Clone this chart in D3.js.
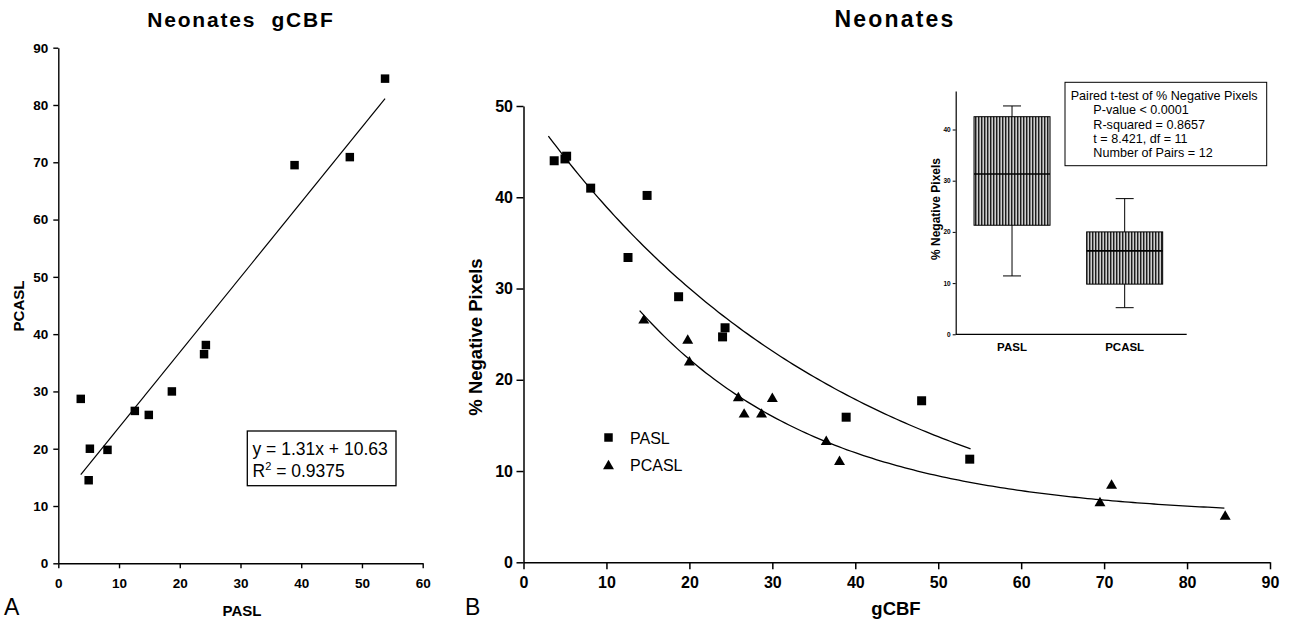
<!DOCTYPE html>
<html>
<head>
<meta charset="utf-8">
<script src="https://cdn.jsdelivr.net/npm/d3@7/dist/d3.min.js"></script>
<style>
  body { margin: 0; background: #fff; }
  svg { display: block; font-family: "Liberation Sans", Arial, sans-serif; }
  .axis path, .axis line { stroke: #000; }
  .axis text { fill: #000; font-weight: bold; }
</style>
</head>
<body>
<svg id="chart" width="1289" height="621"></svg>
<script>
// gCBF per subject (12 neonates), same order in every array
var gcbfPasl  = [3.7, 5.0, 5.2, 8.1, 12.6, 14.9, 18.7, 24.0, 24.3, 38.9, 48.0, 53.8];
var gcbfPcasl = [28.7, 14.5, 20.0, 19.8, 26.6, 25.9, 30.0, 36.5, 38.1, 69.5, 70.9, 84.6];
// % negative pixels per subject
var negPasl  = [44.0, 44.2, 44.5, 41.0, 33.4, 40.2, 29.1, 24.7, 25.7, 15.9, 17.7, 11.3];
var negPcasl = [16.2, 26.5, 21.9, 24.3, 16.2, 18.0, 17.9, 13.2, 11.0, 6.5, 8.4, 5.0];

// panel A regression
var regSlope = 1.31, regIntercept = 10.63;
var regLabel = ["y = 1.31x + 10.63", "R", "2", " = 0.9375"];

// panel B exponential fits: y = c + a*exp(-b*x), drawn over [from, to]
var fitPasl  = {a: 50.5, b: 0.026, c: 0, from: 3.0, to: 53.9};
var fitPcasl = {a: 42.4, b: 0.045, c: 5, from: 14.0, to: 84.5};

// inset box plot
var boxCats = ["PASL", "PCASL"];
var boxLow  = [11.4, 5.2];
var boxQ1   = [21.3, 9.8];
var boxMed  = [31.3, 16.3];
var boxQ3   = [42.5, 20.0];
var boxHigh = [44.6, 26.5];
var statLines = ["Paired t-test of % Negative Pixels", "P-value < 0.0001", "R-squared = 0.8657", "t = 8.421, df = 11", "Number of Pairs = 12"];

var ticksA_x = d3.range(0, 61, 10), ticksA_y = d3.range(0, 91, 10);
var ticksB_x = d3.range(0, 91, 10), ticksB_y = d3.range(0, 51, 10);
var ticksIn_y = d3.range(0, 41, 10);

var svg = d3.select("#chart");
svg.append("rect").attr("width", 1289).attr("height", 621).attr("fill", "#fff");

// hatch for the boxes
var pat = svg.append("defs").append("pattern")
  .attr("id", "hatch").attr("patternUnits", "userSpaceOnUse")
  .attr("width", 3).attr("height", 10);
pat.append("rect").attr("width", 3).attr("height", 10).attr("fill", "#828282");
pat.append("rect").attr("x", 0).attr("width", 1).attr("height", 10).attr("fill", "#1e1e1e");
pat.append("rect").attr("x", 2).attr("width", 1).attr("height", 10).attr("fill", "#cfcfcf");

// ---------- panel A ----------
var xA = d3.scaleLinear().domain([0, 60]).range([58.3, 422.7]);
var yA = d3.scaleLinear().domain([0, 90]).range([563.3, 47.7]);

var gAx = svg.append("g").attr("class", "axis").attr("transform", "translate(0," + yA(0) + ")")
  .call(d3.axisBottom(xA).tickValues(ticksA_x).tickSize(5).tickPadding(10).tickSizeOuter(0));
var gAy = svg.append("g").attr("class", "axis").attr("transform", "translate(" + xA(0) + ",0)")
  .call(d3.axisLeft(yA).tickValues(ticksA_y).tickSize(5).tickPadding(5).tickSizeOuter(0));
[gAx, gAy].forEach(function(g) {
  g.selectAll("text").style("font-size", "13.5px");
  g.selectAll("path,line").attr("stroke-width", 1.4);
});

svg.append("text").attr("x", 241).attr("y", 27).attr("text-anchor", "middle")
  .style("font-size", "21px").style("font-weight", "bold").style("letter-spacing", "1.8px")
  .attr("xml:space", "preserve").text("Neonates  gCBF");
svg.append("text").attr("x", 242).attr("y", 616).attr("text-anchor", "middle")
  .style("font-size", "15px").style("font-weight", "bold").text("PASL");
svg.append("text").attr("transform", "translate(23.5,306) rotate(-90)").attr("text-anchor", "middle")
  .style("font-size", "15px").style("font-weight", "bold").text("PCASL");
svg.append("text").attr("x", 4).attr("y", 615).style("font-size", "23px").text("A");

var xMin = d3.min(gcbfPasl), xMax = d3.max(gcbfPasl);
svg.append("line")
  .attr("x1", xA(xMin)).attr("y1", yA(regSlope * xMin + regIntercept))
  .attr("x2", xA(xMax)).attr("y2", yA(regSlope * xMax + regIntercept))
  .attr("stroke", "#000").attr("stroke-width", 1.2);

svg.append("g").selectAll("path").data(gcbfPasl).enter().append("path")
  .attr("transform", function(d, i) { return "translate(" + xA(d) + "," + yA(gcbfPcasl[i]) + ")"; })
  .attr("d", d3.symbol().type(d3.symbolSquare).size(72));

var lg = svg.append("g");
lg.append("rect").attr("x", 247.3).attr("y", 431).attr("width", 148.7).attr("height", 54.7)
  .attr("fill", "#fff").attr("stroke", "#000").attr("stroke-width", 1.3);
lg.append("text").attr("x", 252.5).attr("y", 455).style("font-size", "17.5px").text(regLabel[0]);
var r2 = lg.append("text").attr("x", 252.5).attr("y", 477).style("font-size", "17.5px");
r2.append("tspan").text(regLabel[1]);
r2.append("tspan").attr("dy", -7).style("font-size", "11px").text(regLabel[2]);
r2.append("tspan").attr("dy", 7).attr("xml:space", "preserve").text(regLabel[3]);

// ---------- panel B ----------
var xB = d3.scaleLinear().domain([0, 90]).range([523.5, 1270]);
var yB = d3.scaleLinear().domain([0, 50]).range([562.3, 106]);

var gBx = svg.append("g").attr("class", "axis").attr("transform", "translate(0," + yB(0) + ")")
  .call(d3.axisBottom(xB).tickValues(ticksB_x).tickSize(7).tickPadding(7.5).tickSizeOuter(0));
var gBy = svg.append("g").attr("class", "axis").attr("transform", "translate(" + xB(0) + ",0)")
  .call(d3.axisLeft(yB).tickValues(ticksB_y).tickSize(7).tickPadding(3.5).tickSizeOuter(0));
[gBx, gBy].forEach(function(g) {
  g.selectAll("text").style("font-size", "16px");
  g.selectAll("path,line").attr("stroke-width", 1.5);
});

svg.append("text").attr("x", 895).attr("y", 27).attr("text-anchor", "middle")
  .style("font-size", "23px").style("font-weight", "bold").style("letter-spacing", "2.2px").text("Neonates");
svg.append("text").attr("x", 896).attr("y", 615).attr("text-anchor", "middle")
  .style("font-size", "18.5px").style("font-weight", "bold").text("gCBF");
svg.append("text").attr("transform", "translate(482,337) rotate(-90)").attr("text-anchor", "middle")
  .style("font-size", "18.5px").style("font-weight", "bold").text("% Negative Pixels");
svg.append("text").attr("x", 465).attr("y", 615).style("font-size", "23px").text("B");

function fitLine(f) {
  var xs = d3.range(f.from, f.to, 0.5).concat([f.to]);
  return d3.line()
    .x(function(x) { return xB(x); })
    .y(function(x) { return yB(f.c + f.a * Math.exp(-f.b * x)); })(xs);
}
[fitPasl, fitPcasl].forEach(function(f) {
  svg.append("path").attr("d", fitLine(f)).attr("fill", "none")
    .attr("stroke", "#000").attr("stroke-width", 1.3);
});

svg.append("g").selectAll("path").data(gcbfPasl).enter().append("path")
  .attr("transform", function(d, i) { return "translate(" + xB(d) + "," + yB(negPasl[i]) + ")"; })
  .attr("d", d3.symbol().type(d3.symbolSquare).size(81));
svg.append("g").selectAll("path").data(gcbfPcasl).enter().append("path")
  .attr("transform", function(d, i) { return "translate(" + xB(d) + "," + yB(negPcasl[i]) + ")"; })
  .attr("d", d3.symbol().type(d3.symbolTriangle).size(52));

// legend
var leg = svg.append("g");
leg.append("path").attr("transform", "translate(608.5,437.5)")
  .attr("d", d3.symbol().type(d3.symbolSquare).size(72));
leg.append("path").attr("transform", "translate(608.5,466)")
  .attr("d", d3.symbol().type(d3.symbolTriangle).size(52));
leg.append("text").attr("x", 630).attr("y", 444).style("font-size", "16px").text("PASL");
leg.append("text").attr("x", 630).attr("y", 471).style("font-size", "16px").text("PCASL");

// ---------- inset box plot ----------
var xIn = d3.scalePoint().domain(boxCats).range([955.7, 1181]).padding(0.5);
var yIn = d3.scaleLinear().domain([0, 47.5]).range([334.3, 91.1]);
var boxW = 76, capW = 18;

var gIy = svg.append("g").attr("class", "axis").attr("transform", "translate(955.7,0)")
  .call(d3.axisLeft(yIn).tickValues(ticksIn_y).tickSize(3).tickPadding(2).tickSizeOuter(0));
gIy.selectAll("text").style("font-size", "6.5px");
svg.append("line").attr("x1", 955.7).attr("x2", 1186.7).attr("y1", yIn(0)).attr("y2", yIn(0))
  .attr("stroke", "#000").attr("stroke-width", 1.2);
gIy.select(".domain").attr("stroke-width", 1.2);

boxCats.forEach(function(c, i) {
  var cx = xIn(c);
  var g = svg.append("g");
  g.append("line").attr("x1", cx).attr("x2", cx).attr("y1", yIn(boxHigh[i])).attr("y2", yIn(boxLow[i]))
    .attr("stroke", "#000").attr("stroke-width", 1);
  [boxHigh[i], boxLow[i]].forEach(function(v) {
    g.append("line").attr("x1", cx - capW / 2).attr("x2", cx + capW / 2).attr("y1", yIn(v)).attr("y2", yIn(v))
      .attr("stroke", "#000").attr("stroke-width", 1);
  });
  g.append("rect").attr("x", cx - boxW / 2).attr("width", boxW)
    .attr("y", yIn(boxQ3[i])).attr("height", yIn(boxQ1[i]) - yIn(boxQ3[i]))
    .attr("fill", "url(#hatch)").attr("stroke", "#000").attr("stroke-width", 1);
  g.append("line").attr("x1", cx - boxW / 2).attr("x2", cx + boxW / 2).attr("y1", yIn(boxMed[i])).attr("y2", yIn(boxMed[i]))
    .attr("stroke", "#000").attr("stroke-width", 1.6);
  svg.append("text").attr("x", cx).attr("y", 350.5).attr("text-anchor", "middle")
    .style("font-size", "11.5px").style("font-weight", "bold").text(c);
});

svg.append("text").attr("transform", "translate(939.5,209) rotate(-90)").attr("text-anchor", "middle")
  .style("font-size", "12px").style("font-weight", "bold").text("% Negative Pixels");

var st = svg.append("g");
st.append("rect").attr("x", 1065).attr("y", 82.3).attr("width", 201.7).attr("height", 83.4)
  .attr("fill", "#fff").attr("stroke", "#000").attr("stroke-width", 1);
statLines.forEach(function(t, i) {
  st.append("text").attr("x", i === 0 ? 1070.7 : 1093.3).attr("y", 100 + i * 14.3)
    .style("font-size", "12.6px").text(t);
});
</script>
</body>
</html>
